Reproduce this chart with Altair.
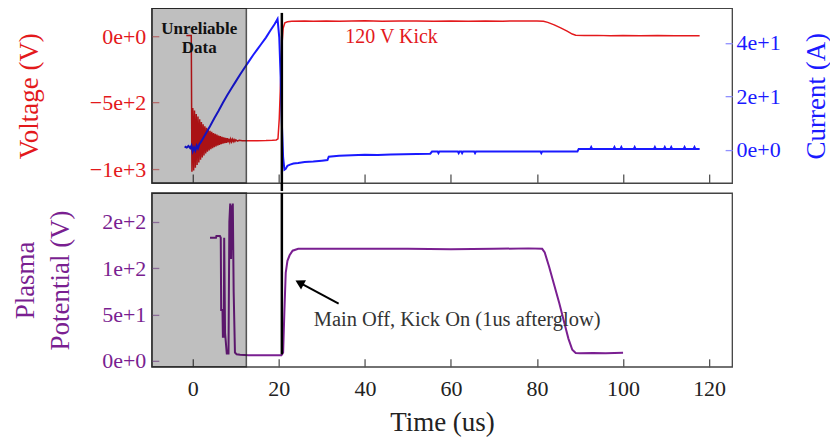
import altair as alt
import pandas as pd

FONT = "Liberation Serif"
RED = "#e3191c"
BLUE = "#1a1aff"
PURPLE = "#7a1f91"
DARK = "#222222"

# ---------------- data ----------------
time_ticks = [0, 20, 40, 60, 80, 100, 120]
volt_ticks = [-1000, -500, 0]
curr_ticks = [0, 20, 40]
pot_ticks = [0, 50, 100, 150]

# (time us, voltage V)
voltage = [
    (-1.5, 5), (-0.35, 5), (-0.2, -1020), (0.0, -540), (0.2, -1010), (0.4, -560),
    (0.6, -990), (0.8, -585), (1.0, -970), (1.2, -605), (1.4, -950), (1.6, -625),
    (1.8, -930), (2.0, -645), (2.2, -912), (2.4, -662), (2.6, -897), (2.8, -677),
    (3.0, -882), (3.2, -690), (3.4, -870), (3.6, -702), (3.8, -860), (4.0, -712),
    (4.2, -851), (4.4, -720), (4.6, -843), (4.8, -728), (5.0, -836), (5.2, -735),
    (5.4, -829), (5.6, -741), (5.8, -823), (6.0, -747), (6.2, -818), (6.4, -752),
    (6.6, -813), (6.8, -757), (7.0, -809), (7.2, -761), (7.4, -805), (7.6, -765),
    (7.8, -802), (8.0, -768), (8.2, -799), (8.4, -771), (8.6, -797), (8.8, -773),
    (9.0, -795), (9.2, -776), (9.4, -793), (9.6, -778), (9.8, -791), (10.0, -780),
    (10.4, -789), (10.8, -784), (11.5, -787), (13.0, -787), (15.0, -786), (17.0, -785),
    (18.5, -783), (19.4, -781), (19.8, -772), (20.1, -620), (20.4, -350), (20.7, -80),
    (21.0, 60), (21.4, 100), (22.0, 108), (23.0, 112), (26.0, 114), (28.0, 113),
    (31.0, 115), (34.0, 113), (37.0, 114), (40.0, 116), (44.0, 113), (48.0, 114),
    (52.0, 115), (56.0, 113), (60.0, 114), (64.0, 112), (68.0, 115), (72.0, 113),
    (76.0, 114), (80.0, 114), (81.5, 112), (82.5, 104), (84.0, 85), (85.5, 62),
    (87.0, 38), (88.2, 16), (89.0, 7), (91.0, 5), (94.0, 6), (97.0, 4), (100.0, 5),
    (104.0, 3), (108.0, 5), (112.0, 4), (117.8, 4),
]

# (time us, current A)
current = [
    (-1.9, 1.2), (-1.4, 0.8), (-1.0, 1.4), (-0.6, 0.6), (-0.3, 1.6), (0.0, -0.6),
    (0.3, 0.8), (0.6, -0.3), (0.9, 1.5), (1.2, 0.5), (1.5, 2.0), (2.0, 3.2),
    (3.0, 6.0), (4.0, 8.8), (5.0, 11.8), (6.0, 14.6), (7.0, 17.6), (8.0, 20.4),
    (9.0, 23.0), (10.0, 25.6), (11.0, 28.2), (12.0, 30.6), (13.0, 33.0), (14.0, 35.4),
    (15.0, 37.6), (16.0, 39.8), (17.0, 42.0), (18.0, 44.6), (19.0, 47.0), (19.7, 49.0),
    (20.1, 42.0), (20.4, 28.0), (20.7, 10.0), (21.0, -3.0), (21.3, -7.5), (21.6, -7.2),
    (22.0, -6.0), (22.6, -5.6), (23.4, -5.2), (24.5, -5.0), (26.0, -4.6), (28.0, -4.4),
    (30.0, -4.1), (31.3, -3.9), (31.6, -2.6), (34.0, -2.3), (37.0, -2.1), (40.0, -1.9),
    (43.0, -2.0), (46.0, -1.8), (49.0, -1.7), (52.0, -1.6), (55.2, -1.5), (55.6, -0.7),
    (56.9, -0.7), (57.1, -1.3), (57.3, -0.7), (61.6, -0.7), (61.8, -1.3), (62.0, -0.7),
    (62.4, -0.7), (62.6, -1.3), (62.8, -0.7), (65.4, -0.7), (65.6, -1.3), (65.8, -0.7),
    (80.8, -0.7), (81.0, -1.3), (81.2, -0.7), (89.4, -0.7), (89.7, 0.3), (92.4, 0.3),
    (92.6, 1.0), (92.8, 0.3), (97.8, 0.3), (98.0, 1.0), (98.2, 0.3), (99.4, 0.3),
    (99.6, 1.0), (99.8, 0.3), (102.5, 0.3), (102.7, 1.0), (102.9, 0.3), (107.2, 0.3),
    (107.4, 1.0), (107.6, 0.3), (109.5, 0.3), (109.7, 1.0), (109.9, 0.3), (111.0, 0.3),
    (111.2, 1.0), (111.4, 0.3), (114.1, 0.3), (114.3, 1.0), (114.5, 0.3), (116.4, 0.3),
    (116.6, 1.0), (116.8, 0.3), (117.8, 0.3),
]

# (time us, plasma potential V)
potential = [
    (4.0, 133), (5.4, 133), (5.5, 135), (6.3, 135), (6.5, 133), (6.6, 55), (6.9, 55),
    (7.0, 26), (7.2, 26), (7.3, 133), (7.5, 30), (7.9, 8), (8.3, 8), (8.5, 150),
    (8.7, 170), (8.9, 110), (9.0, 168), (9.2, 120), (9.3, 170), (9.5, 75), (9.8, 9),
    (10.2, 7), (11.0, 6.5), (13.0, 6), (17.0, 6), (20.6, 6), (21.0, 9), (21.3, 55),
    (21.6, 95), (22.0, 108), (22.5, 114), (23.2, 119), (24.5, 121), (30.0, 121),
    (40.0, 121), (50.0, 121), (60.0, 120.5), (70.0, 121), (78.0, 121.5), (81.2, 121),
    (81.8, 117), (82.8, 102), (84.0, 82), (85.2, 62), (86.3, 42), (87.3, 24),
    (88.2, 12), (89.0, 8.5), (90.0, 8.2), (93.0, 8.5), (96.0, 8.3), (100.0, 8.6),
]

shade_region = [-9.52, 12.45]       # "Unreliable Data" band (us)
kick_time = [20.7]                   # vertical marker (us)
kick_top_voltage = [175]             # where the marker starts in the upper panel (V)
kick_bottom_potential = [7]          # where the marker ends in the lower panel (V)
unreliable_lines = [(1.5, 20, "Unreliable"), (1.5, -130, "Data")]
kick_label = [(46.2, -51, "120 V Kick")]
arrow_tail = [(33.9, 61.8)]
arrow_head = [(24.8, 84.4)]
note_label = [(28.1, 37.4, "Main Off, Kick On (1us afterglow)")]

# ---------------- layout ----------------
W = 581
HT = 175
HB = 174

XS = alt.Scale(domain=[-9.52, 125.35], nice=False, zero=False)
VS = alt.Scale(domain=[-1105, 210], nice=False, zero=False)
CS = alt.Scale(domain=[-12.5, 53], nice=False, zero=False)
PS = alt.Scale(domain=[-6.5, 181.3], nice=False, zero=False)


def frame(pairs, cols):
    d = pd.DataFrame(pairs, columns=cols)
    d["i"] = range(len(d))
    return d


vdf = frame(voltage, ["t", "v"])
cdf = frame(current, ["t", "a"])
pdf = frame(potential, ["t", "p"])
shade_df = pd.DataFrame({"x0": [shade_region[0]], "x1": [shade_region[1]]})
kick_top_df = pd.DataFrame({"t": kick_time, "v": kick_top_voltage})
kick_bot_df = pd.DataFrame({"t": kick_time, "p": kick_bottom_potential})
unrel_df = pd.DataFrame(unreliable_lines, columns=["t", "v", "label"])
kick_lab_df = pd.DataFrame(kick_label, columns=["t", "v", "label"])
arrow_df = pd.DataFrame({"t": [arrow_tail[0][0]], "p": [arrow_tail[0][1]],
                         "t2": [arrow_head[0][0]], "p2": [arrow_head[0][1]]})
head_df = pd.DataFrame(arrow_head, columns=["t", "p"])
note_df = pd.DataFrame(note_label, columns=["t", "p", "label"])

AX_TOP = alt.Axis(title=None, labels=False, values=time_ticks, tickSize=9, offset=-9,
                  domain=False, grid=False, tickColor="#555555", tickWidth=1.3)
AX_BOT = alt.Axis(title="Time (us)", values=time_ticks, tickSize=8, offset=-8,
                  domain=False, grid=False, tickColor="#555555", tickWidth=1.3,
                  labelPadding=12, titlePadding=10, labelColor=DARK, titleColor=DARK)
AX_V = alt.Axis(title="Voltage (V)", values=volt_ticks, format=".0e", tickSize=7, offset=-7,
                labelPadding=6, titlePadding=46, labelColor=RED, titleColor=RED,
                tickColor="#f09090", tickWidth=1.3, domain=False, grid=False)
AX_C = alt.Axis(title="Current (A)", orient="right", values=curr_ticks, format=".0e",
                tickSize=7, offset=-7, labelPadding=4, titlePadding=23, titleAngle=270,
                titleBaseline="top", labelColor=BLUE, titleColor=BLUE,
                tickColor="#9090ff", tickWidth=1.3, domain=False, grid=False)
AX_P = alt.Axis(title=["Plasma", "Potential (V)"], values=pot_ticks, format=".0e",
                tickSize=7, offset=-7, labelPadding=6, titlePadding=27, titleLineHeight=35,
                labelColor=PURPLE, titleColor=PURPLE, tickColor="#b890c8", tickWidth=1.3,
                domain=False, grid=False)

# ---------------- upper panel ----------------
volt_line = alt.Chart(vdf).mark_line(color=RED, strokeWidth=1.5).encode(
    x=alt.X("t:Q", scale=XS, axis=AX_TOP),
    y=alt.Y("v:Q", scale=VS, axis=AX_V),
    order="i:Q",
)
curr_line = alt.Chart(cdf).mark_line(color=BLUE, strokeWidth=2).encode(
    x=alt.X("t:Q", scale=XS, axis=AX_TOP),
    y=alt.Y("a:Q", scale=CS, axis=AX_C),
    order="i:Q",
)
shade_top = alt.Chart(shade_df).mark_rect(
    fill="black", fillOpacity=0.25, stroke="#222222", strokeOpacity=0.75, strokeWidth=1.5
).encode(
    x=alt.X("x0:Q", scale=XS, axis=AX_TOP), x2="x1:Q",
    y=alt.value(0), y2=alt.value(HT),
)
kick_rule_top = alt.Chart(kick_top_df).mark_rule(color="black", strokeWidth=2.5).encode(
    x=alt.X("t:Q", scale=XS, axis=AX_TOP),
    y=alt.Y("v:Q", scale=VS, axis=None),
    y2=alt.value(HT + 8),
)
unrel_text = alt.Chart(unrel_df).mark_text(
    font=FONT, fontSize=17, fontWeight="bold",
    align="center", baseline="alphabetic", color="#111111"
).encode(
    x=alt.X("t:Q", scale=XS, axis=AX_TOP),
    y=alt.Y("v:Q", scale=VS, axis=None),
    text="label:N",
)
kick_text = alt.Chart(kick_lab_df).mark_text(
    font=FONT, fontSize=20, align="center", baseline="alphabetic", color=RED
).encode(
    x=alt.X("t:Q", scale=XS, axis=AX_TOP),
    y=alt.Y("v:Q", scale=VS, axis=None),
    text="label:N",
)
top = alt.layer(
    volt_line, curr_line, kick_text, shade_top, kick_rule_top, unrel_text
).resolve_scale(y="independent").properties(width=W, height=HT)

# ---------------- lower panel ----------------
pot_line = alt.Chart(pdf).mark_line(color=PURPLE, strokeWidth=2).encode(
    x=alt.X("t:Q", scale=XS, axis=AX_BOT),
    y=alt.Y("p:Q", scale=PS, axis=AX_P),
    order="i:Q",
)
shade_bot = alt.Chart(shade_df).mark_rect(
    fill="black", fillOpacity=0.25, stroke="#222222", strokeOpacity=0.75, strokeWidth=1.5
).encode(
    x=alt.X("x0:Q", scale=XS, axis=AX_BOT), x2="x1:Q",
    y=alt.value(0), y2=alt.value(HB),
)
kick_rule_bot = alt.Chart(kick_bot_df).mark_rule(color="black", strokeWidth=2.5).encode(
    x=alt.X("t:Q", scale=XS, axis=AX_BOT),
    y=alt.Y("p:Q", scale=PS, axis=AX_P),
    y2=alt.value(0),
)
arrow_line = alt.Chart(arrow_df).mark_rule(color="black", strokeWidth=2).encode(
    x=alt.X("t:Q", scale=XS, axis=AX_BOT), x2="t2:Q",
    y=alt.Y("p:Q", scale=PS, axis=AX_P), y2="p2:Q",
)
arrow_tip = alt.Chart(head_df).mark_point(
    shape="triangle-up", angle=298, size=110, filled=True, color="black", opacity=1
).encode(
    x=alt.X("t:Q", scale=XS, axis=AX_BOT),
    y=alt.Y("p:Q", scale=PS, axis=AX_P),
)
note_text = alt.Chart(note_df).mark_text(
    font=FONT, fontSize=20.5, align="left", baseline="alphabetic", color="#333333"
).encode(
    x=alt.X("t:Q", scale=XS, axis=AX_BOT),
    y=alt.Y("p:Q", scale=PS, axis=AX_P),
    text="label:N",
)
bottom = alt.layer(
    pot_line, shade_bot, kick_rule_bot, arrow_line, arrow_tip, note_text
).properties(width=W, height=HB)

chart = alt.vconcat(top, bottom, spacing=-4).properties(
    padding={"left": 3, "top": -2, "right": 0, "bottom": 0}
).configure_view(
    stroke="#444444", strokeWidth=1.3
).configure_axis(
    labelFont=FONT, titleFont=FONT, labelFontSize=22, titleFontSize=27,
    titleFontWeight="normal",
)

chart.save("out.html", embed_options={"renderer": "svg", "actions": False})
